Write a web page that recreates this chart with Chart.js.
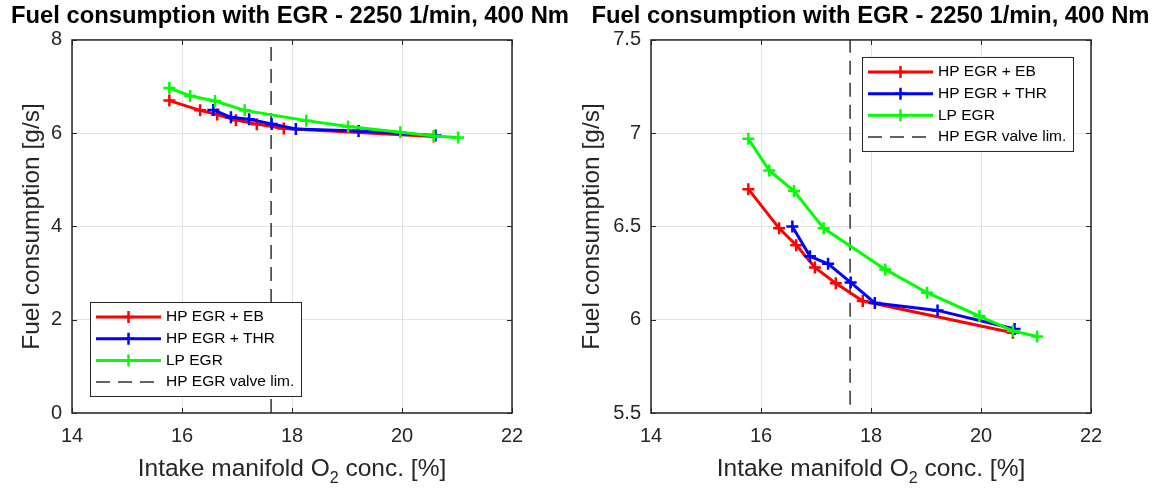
<!DOCTYPE html>
<html>
<head>
<meta charset="utf-8">
<script src="https://cdn.jsdelivr.net/npm/chart.js@4.4.1/dist/chart.umd.min.js"></script>
<style>
  html, body { margin: 0; padding: 0; background: #fff; }
  .wrap { display: flex; width: 1161px; height: 488px; }
  .panel { position: relative; height: 488px; }
  #left { width: 580px; }
  #right { width: 581px; }
</style>
</head>
<body>
<div class="wrap">
  <div class="panel" id="left"><canvas id="fuelFull"></canvas></div>
  <div class="panel" id="right"><canvas id="fuelZoom"></canvas></div>
</div>
<script>
// measured points: intake O2 [%] vs fuel flow [g/s]
const o2EB    = [15.77, 16.33, 16.64, 16.98, 17.36, 17.85, 20.58];
const fuelEB  = [6.70, 6.49, 6.40, 6.28, 6.195, 6.10, 5.93];
const o2THR   = [16.57, 16.89, 17.22, 17.63, 18.07, 19.21, 20.61];
const fuelTHR = [6.50, 6.34, 6.30, 6.20, 6.09, 6.05, 5.95];
const o2LP    = [15.77, 16.15, 16.60, 17.14, 18.26, 19.02, 19.97, 20.58, 21.02];
const fuelLP  = [6.97, 6.80, 6.69, 6.49, 6.27, 6.145, 6.02, 5.94, 5.91];
const valveLimit = 17.62;

const seriesNames = ['HP EGR + EB', 'HP EGR + THR', 'LP EGR', 'HP EGR valve lim.'];
const xTicks = [14, 16, 18, 20, 22];
const yTicksFull = [0, 2, 4, 6, 8];
const yTicksZoom = [5.5, 6, 6.5, 7, 7.5];

const FONT = '"Liberation Sans", Arial, Helvetica, sans-serif';
const INK = '#262626';
const DASH = [14, 8];

const toPoints = (xs, ys) => xs.map((x, i) => ({ x, y: ys[i] }));

// box, inward ticks, x label with subscript and the framed legend
const matlabAxes = {
  id: 'matlabAxes',
  afterDraw(chart, args, opts) {
    const { ctx, chartArea: a, scales: { x, y } } = chart;
    ctx.save();

    ctx.strokeStyle = INK;
    ctx.lineWidth = 1;
    const tl = 5;
    ctx.beginPath();
    x.ticks.forEach(t => {
      const px = Math.round(x.getPixelForValue(t.value)) + 0.5;
      ctx.moveTo(px, a.bottom); ctx.lineTo(px, a.bottom - tl);
      ctx.moveTo(px, a.top); ctx.lineTo(px, a.top + tl);
    });
    y.ticks.forEach(t => {
      const py = Math.round(y.getPixelForValue(t.value)) + 0.5;
      ctx.moveTo(a.left, py); ctx.lineTo(a.left + tl, py);
      ctx.moveTo(a.right, py); ctx.lineTo(a.right - tl, py);
    });
    ctx.stroke();
    ctx.lineWidth = 1.5;
    ctx.strokeRect(a.left, a.top, a.right - a.left, a.bottom - a.top);

    // x axis title: Intake manifold O2 conc. [%]
    const big = '24.5px ' + FONT, small = '16px ' + FONT;
    const p1 = 'Intake manifold O', p2 = '2', p3 = ' conc. [%]';
    ctx.fillStyle = INK;
    ctx.textBaseline = 'alphabetic';
    ctx.font = big;
    const w1 = ctx.measureText(p1).width, w3 = ctx.measureText(p3).width;
    ctx.font = small;
    const w2 = ctx.measureText(p2).width;
    let tx = (a.left + a.right) / 2 - (w1 + w2 + w3) / 2;
    const ty = 476;
    ctx.font = big; ctx.fillText(p1, tx, ty); tx += w1;
    ctx.font = small; ctx.fillText(p2, tx, ty + 7); tx += w2;
    ctx.font = big; ctx.fillText(p3, tx, ty);

    // legend
    const w = 211, h = 94, rowH = 21.7;
    const left = opts.corner === 'ne' ? a.right - 18 - w : a.left + 18;
    const top = opts.corner === 'ne' ? a.top + 17 : a.bottom - 17 - h;
    ctx.fillStyle = '#fff';
    ctx.fillRect(left, top, w, h);
    ctx.strokeStyle = INK;
    ctx.lineWidth = 1;
    ctx.strokeRect(left + 0.5, top + 0.5, w, h);
    ctx.font = '15.5px ' + FONT;
    ctx.textBaseline = 'middle';
    chart.data.datasets.forEach((ds, i) => {
      const cy = top + 15 + i * rowH;
      const x0 = left + 6, x1 = left + 71, cx = (x0 + x1) / 2;
      ctx.strokeStyle = ds.borderColor;
      ctx.lineWidth = ds.borderWidth;
      ctx.setLineDash(ds.borderDash || []);
      ctx.beginPath(); ctx.moveTo(x0, cy); ctx.lineTo(x1, cy); ctx.stroke();
      ctx.setLineDash([]);
      if (ds.pointRadius) {
        const r = ds.pointRadius;
        ctx.lineWidth = ds.pointBorderWidth;
        ctx.beginPath();
        ctx.moveTo(cx - r, cy); ctx.lineTo(cx + r, cy);
        ctx.moveTo(cx, cy - r); ctx.lineTo(cx, cy + r);
        ctx.stroke();
      }
      ctx.fillStyle = '#000';
      ctx.fillText(ds.label, left + 76, cy);
    });
    ctx.restore();
  }
};

function series(label, xs, ys, color, order) {
  return {
    label, order, data: toPoints(xs, ys),
    borderColor: color, backgroundColor: color, borderWidth: 3,
    pointStyle: 'cross', pointRadius: 6, pointBorderWidth: 2.5,
    pointBorderColor: color, tension: 0
  };
}

function makeChart(id, yTicks, corner, yWidth, rightGap, titlePad) {
  const yMin = yTicks[0], yMax = yTicks[yTicks.length - 1];
  return new Chart(document.getElementById(id), {
    type: 'line',
    data: {
      datasets: [
        series(seriesNames[0], o2EB, fuelEB, '#ff0000', 2),
        series(seriesNames[1], o2THR, fuelTHR, '#0000ff', 1),
        series(seriesNames[2], o2LP, fuelLP, '#00ff00', 0),
        {
          label: seriesNames[3], order: 3,
          data: [{ x: valveLimit, y: yTicksFull[0] }, { x: valveLimit, y: yTicksFull[yTicksFull.length - 1] }],
          borderColor: '#333333', borderWidth: 1.5, borderDash: DASH, pointRadius: 0
        }
      ]
    },
    options: {
      responsive: true,
      maintainAspectRatio: false,
      animation: false,
      events: [],
      plugins: {
        legend: { display: false },
        tooltip: { enabled: false },
        title: {
          display: true,
          text: 'Fuel consumption with EGR - 2250 1/min, 400 Nm',
          color: '#000',
          font: { family: FONT, size: 23.8, weight: 'bold' },
          padding: { top: 2, bottom: 9.4 }
        },
        matlabAxes: { corner }
      },
      scales: {
        x: {
          type: 'linear', min: xTicks[0], max: xTicks[xTicks.length - 1],
          afterBuildTicks: s => { s.ticks = xTicks.map(v => ({ value: v })); },
          afterFit: s => { s.height = 75; },
          grid: { color: '#e3e3e3', drawTicks: false },
          border: { display: false },
          ticks: { color: INK, padding: 11, font: { family: FONT, size: 20 }, maxRotation: 0,
                   callback: v => String(v) }
        },
        y: {
          type: 'linear', min: yMin, max: yMax,
          afterBuildTicks: s => { s.ticks = yTicks.map(v => ({ value: v })); },
          afterFit: s => { s.width = yWidth; },
          grid: { color: '#e3e3e3', drawTicks: false },
          border: { display: false },
          ticks: { color: INK, padding: 10, font: { family: FONT, size: 20 },
                   callback: v => String(v) },
          title: {
            display: true, text: 'Fuel consumption [g/s]', color: INK,
            font: { family: FONT, size: 24.5 }, padding: { top: titlePad, bottom: 0 }
          }
        },
        // empty right-hand axis only reserves the margin beside the box
        yGap: {
          type: 'linear', position: 'right', min: yMin, max: yMax,
          afterFit: s => { s.width = rightGap; },
          grid: { display: false, drawTicks: false },
          border: { display: false },
          ticks: { display: false }
        }
      }
    },
    plugins: [matlabAxes]
  });
}

makeChart('fuelFull', yTicksFull, 'sw', 72, 68, 17.3);
makeChart('fuelZoom', yTicksZoom, 'ne', 71, 70, -2.7);
</script>
</body>
</html>
